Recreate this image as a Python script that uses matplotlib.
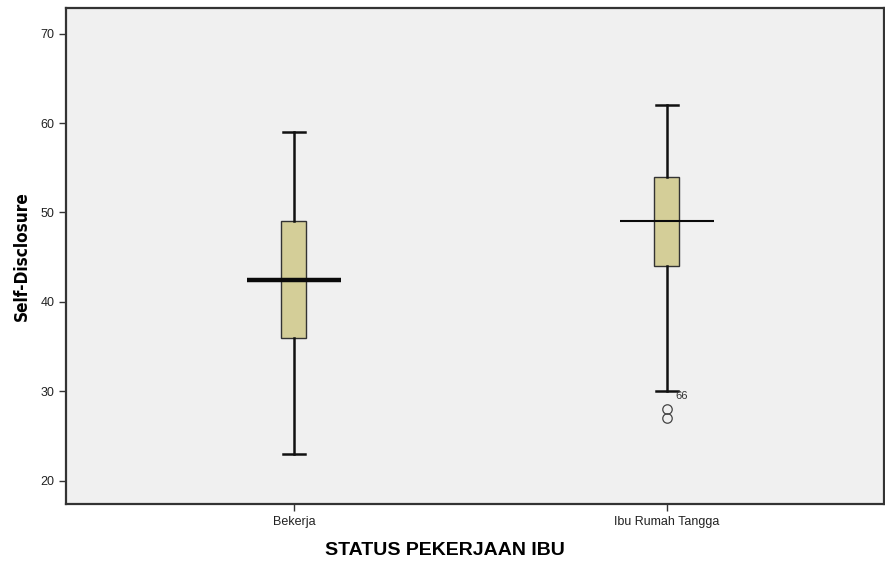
import matplotlib
matplotlib.use("Agg")
import matplotlib.pyplot as plt

categories = ["Bekerja", "Ibu Rumah Tangga"]
q1 = [36, 44]
q3 = [49, 54]
medians = [42.5, 49]
whis_lo = [23, 30]
whis_hi = [59, 62]
outliers = [[], [27, 28]]
outlier_labels = [[], ["", "66"]]
yticks = [20, 30, 40, 50, 60, 70]

fig = plt.figure(figsize=(8.85, 5.63), dpi=100)
ax = fig.add_axes([66/885, 1 - 504/563, (884-66)/885, (504-8)/563])
ax.set_facecolor("#F0F0F0")

positions = [1, 2]
stats = []
for i in range(2):
    stats.append(dict(med=medians[i], q1=q1[i], q3=q3[i], whislo=whis_lo[i],
                      whishi=whis_hi[i], fliers=[], label=categories[i]))

ax.bxp(stats, positions=positions, widths=0.067, capwidths=0.059,
       patch_artist=True, showfliers=False,
       boxprops=dict(facecolor="#D4CE98", edgecolor="#333333", linewidth=1.0),
       whiskerprops=dict(color="#111111", linewidth=1.8),
       capprops=dict(color="#111111", linewidth=1.8),
       medianprops=dict(linewidth=0))

# median lines wider than box
med_lw = [3.2, 1.5]
for i, p in enumerate(positions):
    ax.hlines(medians[i], p - 0.126, p + 0.126, color="#0a0a0a", linewidth=med_lw[i], zorder=5)

for i, p in enumerate(positions):
    for v, lab in zip(outliers[i], outlier_labels[i]):
        ax.plot([p], [v], marker="o", markersize=6.8, markerfacecolor="none",
                markeredgecolor="#444444", markeredgewidth=0.9, zorder=6)
        if lab:
            ax.text(p + 0.022, v + 1.5, lab, fontsize=8, family="Liberation Sans",
                    color="#333333", va="center", ha="left")

ax.set_xlim(0.389, 2.582)
ax.set_ylim(17.39, 72.87)
ax.set_yticks(yticks)
ax.set_yticklabels([str(t) for t in yticks], fontsize=9, family="Liberation Sans", color="#222222")
ax.set_xticks(positions)
ax.set_xticklabels(categories, fontsize=9, family="Liberation Sans", color="#222222")
ax.tick_params(axis="both", direction="out", length=5, width=1.0, color="#333333")
ax.tick_params(axis="x", pad=4)
for s in ax.spines.values():
    s.set_color("#333333")
    s.set_linewidth(1.6)

ax.set_xlabel("STATUS PEKERJAAN IBU", fontsize=14, fontweight="bold",
              family="Liberation Sans")
ax.xaxis.set_label_coords((445 - 66) / (884 - 66), -0.077)
ax.xaxis.label.set_va("top")
ax.set_ylabel("Self-Disclosure", fontsize=12.3, fontweight="bold",
              family=["Liberation Sans Narrow", "DejaVu Sans"], fontstretch="condensed", labelpad=7)

fig.savefig("out.png", dpi=100)
